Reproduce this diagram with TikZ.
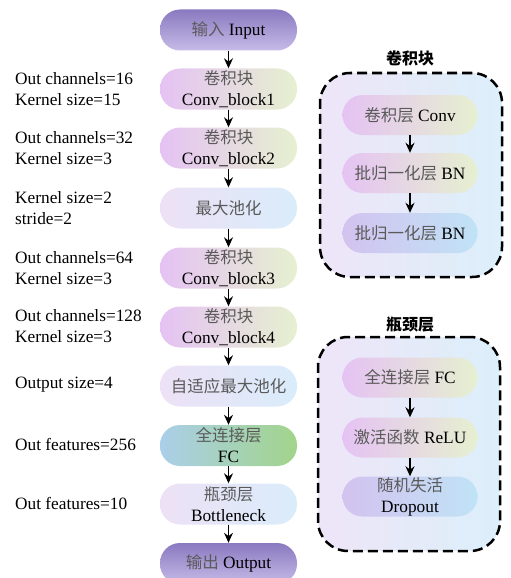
\documentclass[tikz,border=0pt]{standalone}
\usepackage{fontspec}
\setmainfont{Liberation Serif}
\newfontfamily\cjk{Noto Sans CJK SC}
\usetikzlibrary{arrows.meta,positioning}
\definecolor{zhgray}{HTML}{5A5A5A}
\definecolor{termtop}{HTML}{8A79C0}
\definecolor{termbot}{HTML}{C6BBE7}
\definecolor{cpink}{HTML}{E5C2F3}
\definecolor{cgreen}{HTML}{E6F0D0}
\definecolor{plav}{HTML}{EDE1F6}
\definecolor{pblue}{HTML}{D9ECFA}
\definecolor{fblue}{HTML}{AACFE9}
\definecolor{fgreen}{HTML}{A2D48B}
\definecolor{blav}{HTML}{D3C2EF}
\definecolor{bblue}{HTML}{C0E3F6}
\definecolor{boxa}{HTML}{EEE5F8}
\definecolor{boxb}{HTML}{DCEFFA}
\newcommand{\zhtxt}[1]{{\cjk\color{zhgray}\fontsize{16.5}{21}\selectfont#1}}
\begin{document}
\begin{tikzpicture}[x=1pt,y=-1pt,
  every node/.style={font=\fontsize{17.3}{21}\selectfont},
  pill/.style={rectangle,rounded corners=20pt,minimum width=137pt,minimum height=41pt,inner sep=0pt,align=center},
  termnode/.style={pill,top color=termtop,bottom color=termbot},
  convnode/.style={pill,left color=cpink,right color=cgreen},
  poolnode/.style={pill,left color=plav,right color=pblue},
  fcnode/.style={pill,left color=fblue,right color=fgreen},
  bnnode/.style={pill,left color=blav,right color=bblue},
  inner/.style={minimum width=135pt,minimum height=40pt},
  flow/.style={-{Stealth[length=10pt,width=9pt]},line width=1.5pt,black},
  dbox/.style={rectangle,rounded corners=30pt,draw=black,line width=2.5pt,dash pattern=on 10pt off 5pt,left color=boxa,right color=boxb,minimum width=182pt,inner sep=0pt},
  lbl/.style={anchor=west,align=left,inner sep=0pt},
  title/.style={font=\fontsize{16}{18}\selectfont\cjk\bfseries}
]
\useasboundingbox (0,0) rectangle (511,578);
% left column
\node[termnode] (in) at (228.5,30) {\zhtxt{输入} Input};
\node[convnode] (c1) at (228.5,89) {\zhtxt{卷积块}\\Conv\_block1};
\node[convnode] (c2) at (228.5,148) {\zhtxt{卷积块}\\Conv\_block2};
\node[poolnode] (mp) at (228.5,208) {\zhtxt{最大池化}};
\node[convnode] (c3) at (228.5,268) {\zhtxt{卷积块}\\Conv\_block3};
\node[convnode] (c4) at (228.5,327) {\zhtxt{卷积块}\\Conv\_block4};
\node[poolnode] (ap) at (228.5,386) {\zhtxt{自适应最大池化}};
\node[fcnode] (fc) at (228.5,445.5) {\zhtxt{全连接层}\\FC};
\node[poolnode] (bt) at (228.5,504) {\zhtxt{瓶颈层}\\Bottleneck};
\node[termnode] (out) at (228.5,563.5) {\zhtxt{输出} Output};
\foreach \a/\b in {in/c1,c1/c2,c2/mp,mp/c3,c3/c4,c4/ap,ap/fc,fc/bt,bt/out}
  \draw[flow] (\a) -- (\b);
% labels
\node[lbl] (l1) at (15,89) {Out channels=16\\Kernel size=15};
\node[lbl] (l2) at (15,148) {Out channels=32\\Kernel size=3};
\node[lbl] (l3) at (15,208) {Kernel size=2\\stride=2};
\node[lbl] (l4) at (15,268) {Out channels=64\\Kernel size=3};
\node[lbl] (l5) at (15,326) {Out channels=128\\Kernel size=3};
\node[lbl] (l6) at (15,385) {Output size=4};
\node[lbl] (l7) at (15,444) {Out features=256};
\node[lbl] (l8) at (15,503) {Out features=10};
% right box 1
\node[dbox,minimum height=204pt] (b1) at (411,175) {};
\node[title] (t1) at (410,58) {卷积块};
\node[convnode,inner] (r1) at (410,115) {\zhtxt{卷积层} Conv};
\node[convnode,inner] (r2) at (410,173) {\zhtxt{批归一化层} BN};
\node[bnnode,inner] (r3) at (410,233) {\zhtxt{批归一化层} BN};
\draw[flow] (r1) -- (r2);
\draw[flow] (r2) -- (r3);
% right box 2
\node[dbox,minimum height=214pt] (b2) at (409,444) {};
\node[title] (t2) at (410,325) {瓶颈层};
\node[convnode,inner] (s1) at (410,377.5) {\zhtxt{全连接层} FC};
\node[convnode,inner] (s2) at (410,437.5) {\zhtxt{激活函数} ReLU};
\node[bnnode,inner] (s3) at (410,496.5) {\zhtxt{随机失活}\\Dropout};
\draw[flow] (s1) -- (s2);
\draw[flow] (s2) -- (s3);
\end{tikzpicture}
\end{document}
